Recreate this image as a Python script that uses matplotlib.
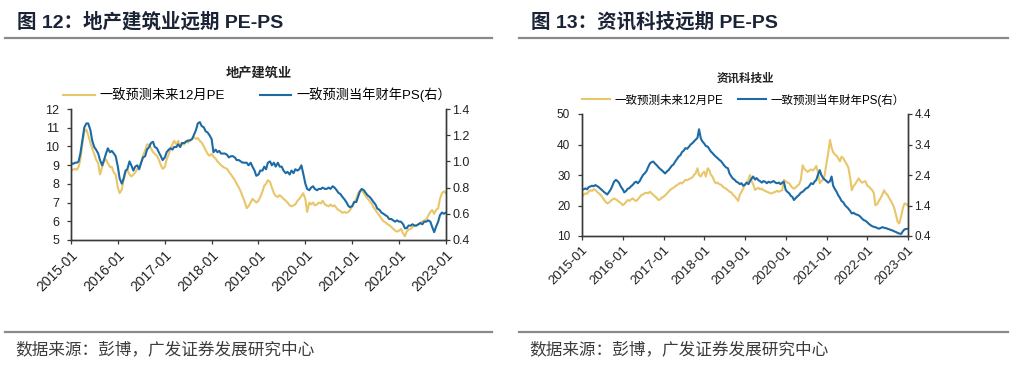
import pandas as pd
import matplotlib
matplotlib.use('Agg')
import matplotlib.pyplot as plt
import matplotlib.dates as mdates
from matplotlib.ticker import FormatStrFormatter

plt.rcParams['font.family'] = ['Liberation Sans', 'Noto Sans CJK SC', 'DejaVu Sans']

# semi-monthly observations, 2015-01 .. 2023-01
dates = pd.date_range('2015-01-01', periods=193, freq='SMS')

# 地产建筑业
re_pe = [8.8, 8.75, 8.8, 8.75, 8.9, 9.3, 10.2, 10.8, 10.9, 10.6, 10.2, 9.9,
         9.6, 9.3, 9.1, 8.5, 8.9, 9.2, 9.3, 9.1, 8.9, 8.9, 8.6, 8.5,
         7.8, 7.5, 7.7, 8.2, 8.6, 8.75, 8.5, 8.4, 8.5, 8.6, 8.8, 8.9,
         9.2, 9.5, 9.8, 10.1, 10.1, 9.9, 9.7, 9.6, 9.5, 9.3, 9.0, 8.8,
         8.9, 9.3, 9.6, 9.9, 10.1, 10.3, 10.1, 10.3, 10.0, 10.2, 10.1, 10.3,
         10.2, 10.3, 10.4, 10.5, 10.4, 10.45, 10.3, 10.2, 10.0, 9.8, 9.6, 9.5,
         9.6, 9.45, 9.35, 9.2, 9.1, 9.0, 8.9, 8.85, 8.8, 8.65, 8.5, 8.35,
         8.2, 8.0, 7.8, 7.6, 7.3, 7.05, 6.7, 6.8, 7.0, 7.2, 7.1, 7.0,
         7.1, 7.3, 7.6, 7.9, 8.0, 8.2, 8.1, 7.8, 7.5, 7.35, 7.3, 7.4,
         7.3, 7.2, 7.1, 7.0, 6.85, 6.8, 6.85, 6.9, 7.1, 7.2, 7.35, 7.5,
         7.2, 6.5, 7.0, 6.9, 7.0, 6.85, 6.9, 7.0, 6.95, 7.1, 6.9, 6.85,
         6.8, 6.9, 6.8, 6.85, 6.7, 6.6, 6.55, 6.45, 6.5, 6.45, 6.5, 6.6,
         6.8, 7.0, 7.2, 7.5, 7.6, 7.65, 7.5, 7.35, 7.2, 7.1, 6.95, 6.75,
         6.6, 6.45, 6.3, 6.15, 6.0, 5.95, 5.85, 5.8, 5.7, 5.6, 5.5, 5.45,
         5.5, 5.6, 5.35, 5.2, 5.45, 5.55, 5.6, 5.7, 5.75, 5.8, 5.85, 5.9,
         6.0, 6.05, 6.1, 6.3, 6.5, 6.6, 6.4, 6.6, 6.7, 7.2, 7.5, 7.6,
         7.5]
re_ps = [0.99, 0.98, 0.99, 0.99, 1.00, 1.06, 1.17, 1.26, 1.29, 1.29, 1.24, 1.16,
         1.11, 1.09, 1.06, 1.01, 0.97, 1.01, 1.06, 1.10, 1.07, 1.08, 1.06, 1.04,
         0.96, 0.87, 0.83, 0.87, 0.93, 0.94, 1.00, 0.97, 0.93, 0.96, 0.97, 0.94,
         0.99, 1.03, 1.04, 1.09, 1.11, 1.14, 1.15, 1.11, 1.10, 1.07, 1.04, 1.01,
         1.03, 1.07, 1.09, 1.10, 1.09, 1.11, 1.11, 1.13, 1.11, 1.14, 1.14, 1.15,
         1.16, 1.16, 1.17, 1.20, 1.24, 1.29, 1.30, 1.27, 1.26, 1.23, 1.22, 1.20,
         1.17, 1.07, 1.09, 1.07, 1.08, 1.06, 1.06, 1.06, 1.05, 1.03, 1.04, 1.04,
         1.03, 1.01, 1.01, 1.00, 0.99, 0.99, 0.99, 0.97, 0.99, 0.96, 0.93, 0.89,
         0.90, 0.93, 0.93, 0.96, 0.94, 0.99, 1.00, 0.97, 0.99, 0.96, 0.99, 0.96,
         0.96, 0.93, 0.91, 0.92, 0.90, 0.93, 0.91, 0.94, 0.93, 0.94, 0.97, 0.91,
         0.83, 0.79, 0.78, 0.80, 0.81, 0.79, 0.78, 0.79, 0.79, 0.80, 0.79, 0.79,
         0.80, 0.79, 0.81, 0.80, 0.78, 0.76, 0.75, 0.73, 0.71, 0.69, 0.66, 0.65,
         0.66, 0.69, 0.69, 0.73, 0.77, 0.79, 0.78, 0.76, 0.74, 0.73, 0.71, 0.69,
         0.67, 0.64, 0.63, 0.61, 0.60, 0.59, 0.58, 0.56, 0.56, 0.55, 0.54, 0.55,
         0.54, 0.54, 0.52, 0.49, 0.49, 0.51, 0.51, 0.52, 0.51, 0.51, 0.52, 0.53,
         0.52, 0.54, 0.54, 0.55, 0.54, 0.50, 0.46, 0.50, 0.54, 0.59, 0.61, 0.60,
         0.61]

# 资讯科技业
it_pe = [22.9, 23.5, 24.0, 23.8, 24.5, 25.0, 24.8, 25.3, 25.1, 24.5, 24.0, 23.5,
         22.8, 22.0, 21.2, 20.7, 21.0, 21.5, 22.0, 22.3, 22.0, 21.6, 21.2, 20.8,
         20.1, 20.5, 21.2, 21.8, 21.5, 22.0, 22.3, 21.8, 21.5, 22.0, 22.8, 23.4,
         23.6, 24.0, 24.2, 24.0, 24.5, 24.0, 23.5, 23.0, 22.5, 21.8, 22.0, 22.5,
         22.9, 23.3, 24.0, 24.5, 25.1, 25.5, 25.8, 26.3, 26.7, 27.0, 27.5, 27.2,
         27.8, 28.4, 28.3, 28.6, 28.9, 29.2, 30.0, 30.5, 32.2, 30.0, 29.5, 30.5,
         31.1, 29.5, 32.2, 31.6, 30.0, 29.5, 28.0, 27.3, 27.5, 27.0, 26.8, 26.2,
         25.8, 25.5, 25.0, 24.5, 24.3, 23.5, 23.0, 22.3, 21.5, 23.5, 24.5, 25.5,
         27.0, 27.5, 28.4, 30.0, 28.0, 27.0, 25.1, 25.5, 25.8, 25.3, 25.5, 25.0,
         24.8, 24.5, 24.3, 24.0, 24.0, 24.3, 24.5, 24.8, 24.5, 24.8, 25.0, 28.4,
         28.0, 27.5, 27.3, 26.5, 25.8, 25.5, 26.0, 26.5, 27.0, 28.4, 33.2, 32.0,
         31.5, 31.0, 31.5, 31.8, 31.5, 32.0, 33.0, 31.0, 27.3, 28.0, 28.5, 30.0,
         34.0, 37.0, 41.5, 39.0, 37.5, 36.8, 36.3, 35.5, 34.5, 36.0, 35.5, 34.5,
         33.5, 32.5, 29.0, 25.0, 26.5, 27.0, 28.0, 28.9, 28.0, 27.5, 27.8, 28.0,
         26.5, 26.2, 25.5, 25.0, 24.0, 20.1, 20.5, 21.5, 22.5, 23.5, 25.0, 24.0,
         23.5, 22.5, 21.5, 20.5, 19.0, 17.0, 14.6, 14.1, 16.5, 19.0, 20.7, 20.5,
         20.0]
it_ps = [1.91, 1.93, 1.96, 1.93, 2.00, 2.02, 2.05, 2.03, 2.07, 2.04, 2.00, 1.95,
         1.90, 1.85, 1.80, 1.76, 1.85, 1.92, 2.05, 2.18, 2.24, 2.20, 2.13, 2.02,
         1.93, 1.83, 1.88, 1.95, 1.97, 2.03, 2.08, 2.15, 2.18, 2.13, 2.20, 2.30,
         2.40, 2.45, 2.53, 2.65, 2.78, 2.82, 2.84, 2.78, 2.72, 2.66, 2.60, 2.56,
         2.50, 2.45, 2.52, 2.56, 2.63, 2.70, 2.75, 2.84, 2.92, 3.00, 3.05, 3.15,
         3.20, 3.28, 3.26, 3.32, 3.40, 3.44, 3.50, 3.55, 3.62, 3.90, 3.60, 3.50,
         3.43, 3.35, 3.33, 3.25, 3.17, 3.12, 3.05, 3.00, 2.95, 2.90, 2.85, 2.78,
         2.70, 2.65, 2.62, 2.45, 2.35, 2.28, 2.24, 2.18, 2.15, 2.10, 2.13, 2.05,
         2.08, 2.15, 2.10, 2.20, 2.28, 2.35, 2.25, 2.30, 2.23, 2.20, 2.15, 2.20,
         2.18, 2.13, 2.18, 2.15, 2.18, 2.20, 2.15, 2.13, 2.15, 2.10, 2.15, 2.18,
         1.91, 1.85, 1.80, 1.72, 1.68, 1.58, 1.65, 1.70, 1.75, 1.82, 1.85, 1.90,
         1.96, 1.98, 2.05, 2.13, 2.10, 2.18, 2.24, 2.40, 2.56, 2.40, 2.30, 2.25,
         2.20, 2.15, 2.20, 2.35, 2.05, 1.95, 1.85, 1.74, 1.65, 1.55, 1.50, 1.41,
         1.35, 1.30, 1.22, 1.14, 1.16, 1.12, 1.10, 1.08, 1.03, 0.97, 0.92, 0.90,
         0.85, 0.80, 0.75, 0.72, 0.70, 0.69, 0.66, 0.64, 0.66, 0.69, 0.67, 0.66,
         0.64, 0.62, 0.60, 0.58, 0.55, 0.53, 0.50, 0.48, 0.47, 0.55, 0.62, 0.63,
         0.64]

pe_label = '一致预测未来12月PE'
ps_label = '一致预测当年财年PS(右）'

YELLOW = '#E8C66A'
BLUE = '#1D6AA5'
AXC = '#3a3a3a'
W, H = 1024, 372


def fx(px):
    return px / W


def fy(py):
    return 1 - py / H


fig = plt.figure(figsize=(W / 100, H / 100), dpi=100)


def header(x0, x1, title):
    fig.text(fx(x0 + 12), fy(22), title, fontsize=14, fontweight='bold',
             color='#1b2436', va='center', ha='left')
    fig.add_artist(plt.Line2D([fx(x0), fx(x1)], [fy(38), fy(38)],
                              transform=fig.transFigure, color='#8a8a8a', lw=1.6))
    fig.add_artist(plt.Line2D([fx(x0), fx(x1)], [fy(332), fy(332)],
                              transform=fig.transFigure, color='#8a8a8a', lw=1.6))
    fig.text(fx(x0 + 10), fy(349), '数据来源：彭博，广发证券发展研究中心', fontsize=12,
             color='#3c3c3c', va='center', ha='left')


def panel(rect, pe, ps, pe_ticks, ps_ticks, name, name_y, leg_x, leg_y,
          colspace, fs, leg_fs, xfs):
    ax = fig.add_axes(rect)
    ax2 = ax.twinx()
    l1, = ax.plot(dates, pe, color=YELLOW, lw=1.5)
    l2, = ax2.plot(dates, ps, color=BLUE, lw=1.5)
    ax.set_xlim(pd.Timestamp('2015-01-01'), pd.Timestamp('2023-01-01'))
    ax.set_ylim(pe_ticks[0], pe_ticks[-1])
    ax.set_yticks(pe_ticks)
    ax2.set_ylim(ps_ticks[0], ps_ticks[-1])
    ax2.set_yticks(ps_ticks)
    ax2.yaxis.set_major_formatter(FormatStrFormatter('%.1f'))
    ax.xaxis.set_major_locator(mdates.YearLocator())
    ax.xaxis.set_major_formatter(mdates.DateFormatter('%Y-%m'))
    for a in (ax, ax2):
        a.spines['top'].set_visible(False)
        for s in ('left', 'right', 'bottom'):
            a.spines[s].set_color(AXC)
            a.spines[s].set_linewidth(1.0)
        a.tick_params(colors=AXC, labelcolor='#222222', labelsize=fs, length=3, width=0.9)
    ax.tick_params(axis='y', pad=5.5)
    ax2.tick_params(axis='y', pad=1.5)
    ax.tick_params(axis='x', pad=3, labelsize=xfs)
    plt.setp(ax.get_xticklabels(), rotation=45, ha='right', rotation_mode='anchor')
    cx = rect[0] + rect[2] / 2
    fig.text(cx, fy(name_y), name, fontsize=leg_fs, fontweight='bold', color='#222222',
             ha='center', va='center')
    fig.legend([l1, l2], [pe_label, ps_label], loc='center left',
               bbox_to_anchor=(fx(leg_x), fy(leg_y)), ncol=2, frameon=False,
               fontsize=leg_fs, handlelength=2.4, handletextpad=0.4,
               columnspacing=colspace, borderpad=0, borderaxespad=0)
    return ax, ax2


header(5, 492, '图 12：地产建筑业远期 PE-PS')
header(519, 1008, '图 13：资讯科技远期 PE-PS')

panel([fx(71), fy(240), fx(446) - fx(71), fy(109) - fy(240)],
      re_pe, re_ps, [5, 6, 7, 8, 9, 10, 11, 12], [0.4, 0.6, 0.8, 1.0, 1.2, 1.4],
      '地产建筑业', 73, 63, 95, 2.6, 9, 9.5, 10)
panel([fx(582), fy(236), fx(908) - fx(582), fy(114) - fy(236)],
      it_pe, it_ps, [10, 20, 30, 40, 50], [0.4, 1.4, 2.4, 3.4, 4.4],
      '资讯科技业', 79, 582, 100, 1.3, 8.5, 8.3, 9.5)

fig.savefig('out.png', dpi=100, facecolor='white')
